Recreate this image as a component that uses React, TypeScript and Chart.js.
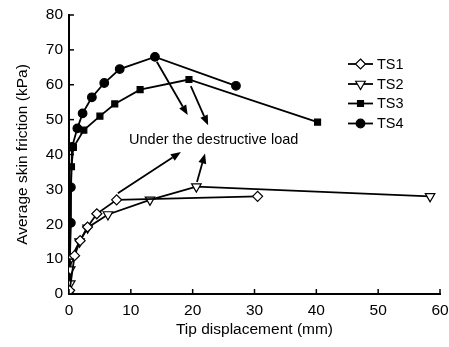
import React, { useEffect, useRef } from "react";
import { Chart, registerables } from "chart.js";

Chart.register(...registerables);

const TS1_X = [0.1, 0.9, 1.8, 3.0, 4.5, 7.7, 30.5];
const TS1_Y = [1, 11, 15.3, 19.2, 23, 27, 28];
const TS2_X = [0, 0.2, 0.2, 0.4, 1.7, 3.0, 6.3, 13.1, 20.6, 58.4];
const TS2_Y = [0.5, 3, 7, 10.5, 15, 19, 22.8, 27, 30.8, 28];
const TS3_X = [0, 0.4, 0.7, 2.4, 5.0, 7.4, 11.5, 19.4, 40.2];
const TS3_Y = [0, 36.5, 42, 47, 51, 54.5, 58.6, 61.5, 49.3];
const TS4_X = [0, 0.3, 0.3, 0.5, 1.35, 2.2, 3.7, 5.7, 8.2, 13.9, 27.0];
const TS4_Y = [0, 20.4, 30.6, 42.2, 47.5, 51.8, 56.4, 60.5, 64.5, 68, 59.7];

const SERIES_NAMES = ["TS1", "TS2", "TS3", "TS4"];
const X_TICKS = [0, 10, 20, 30, 40, 50, 60];
const Y_TICKS = [0, 10, 20, 30, 40, 50, 60, 70, 80];

const NOTE_TEXT = "Under the destructive load";
const NOTE_POS = [23.4, 44.3];
// arrows: [fromX, fromY, toX, toY] in data units
const ARROWS = [
  [14.2, 66.6, 19.2, 51.3],
  [19.7, 59.6, 22.5, 48.4],
  [7.9, 28.9, 18.1, 40.7],
  [20.7, 32.1, 22.0, 40.3],
];

const FONT = "Liberation Sans, Arial, sans-serif";

const zip = (xs: number[], ys: number[]) => xs.map((x, i) => ({ x, y: ys[i] }));

const STYLES = [
  { pointStyle: "rectRot", radius: 5, bg: "#fff", rotation: 0 },
  { pointStyle: "triangle", radius: 5.5, bg: "#fff", rotation: 180 },
  { pointStyle: "rect", radius: 4.2, bg: "#000", rotation: 0 },
  { pointStyle: "circle", radius: 4.3, bg: "#000", rotation: 0 },
];

function drawPoint(ctx: any, style: string, r: number, x: number, y: number, rot: number, bg: string) {
  ctx.save();
  ctx.translate(x, y);
  ctx.rotate((rot * Math.PI) / 180);
  ctx.beginPath();
  if (style === "circle") {
    ctx.arc(0, 0, r, 0, Math.PI * 2);
  } else if (style === "rect") {
    const s = r * Math.SQRT1_2;
    ctx.rect(-s, -s, 2 * s, 2 * s);
  } else if (style === "rectRot") {
    ctx.moveTo(0, -r);
    ctx.lineTo(r, 0);
    ctx.lineTo(0, r);
    ctx.lineTo(-r, 0);
    ctx.closePath();
  } else if (style === "triangle") {
    ctx.moveTo(0, -r);
    ctx.lineTo(r * 0.87, r * 0.5);
    ctx.lineTo(-r * 0.87, r * 0.5);
    ctx.closePath();
  }
  ctx.fillStyle = bg;
  ctx.fill();
  ctx.strokeStyle = "#000";
  ctx.stroke();
  ctx.restore();
}

const decorPlugin = {
  id: "decor",
  afterDatasetsDraw(chart: any) {
    const ctx = chart.ctx;
    const xs = chart.scales.x;
    const ys = chart.scales.y;
    const area = chart.chartArea;
    ctx.save();
    ctx.strokeStyle = "#000";
    ctx.lineWidth = 1.5;
    // inward ticks
    X_TICKS.forEach((v) => {
      const px = xs.getPixelForValue(v);
      ctx.beginPath();
      ctx.moveTo(px, area.bottom);
      ctx.lineTo(px, area.bottom - 5);
      ctx.stroke();
    });
    Y_TICKS.forEach((v) => {
      const py = ys.getPixelForValue(v);
      ctx.beginPath();
      ctx.moveTo(area.left, py);
      ctx.lineTo(area.left + 5, py);
      ctx.stroke();
    });
    // arrows
    ARROWS.forEach(([x0, y0, x1, y1]) => {
      const ax = xs.getPixelForValue(x0);
      const ay = ys.getPixelForValue(y0);
      const bx = xs.getPixelForValue(x1);
      const by = ys.getPixelForValue(y1);
      const ang = Math.atan2(by - ay, bx - ax);
      const hl = 10;
      const hw = 4;
      const baseX = bx - hl * Math.cos(ang);
      const baseY = by - hl * Math.sin(ang);
      ctx.lineWidth = 1.8;
      ctx.beginPath();
      ctx.moveTo(ax, ay);
      ctx.lineTo(baseX, baseY);
      ctx.stroke();
      ctx.beginPath();
      ctx.moveTo(bx, by);
      ctx.lineTo(baseX + hw * Math.sin(ang), baseY - hw * Math.cos(ang));
      ctx.lineTo(baseX - hw * Math.sin(ang), baseY + hw * Math.cos(ang));
      ctx.closePath();
      ctx.fillStyle = "#000";
      ctx.fill();
    });
    // note
    ctx.fillStyle = "#000";
    ctx.font = `14.5px ${FONT}`;
    ctx.textAlign = "center";
    ctx.textBaseline = "middle";
    ctx.fillText(NOTE_TEXT, xs.getPixelForValue(NOTE_POS[0]), ys.getPixelForValue(NOTE_POS[1]));
    // legend
    const lx0 = 348;
    const lx1 = 373;
    const rows = [64, 84, 103.5, 123.5];
    SERIES_NAMES.forEach((name, i) => {
      const y = rows[i];
      const st = STYLES[i];
      ctx.lineWidth = 1.8;
      ctx.strokeStyle = "#000";
      ctx.beginPath();
      ctx.moveTo(lx0, y);
      ctx.lineTo(lx1, y);
      ctx.stroke();
      ctx.lineWidth = 1.2;
      drawPoint(ctx, st.pointStyle, st.radius, (lx0 + lx1) / 2, y, st.rotation, st.bg);
      ctx.fillStyle = "#000";
      ctx.font = `14.5px ${FONT}`;
      ctx.textAlign = "left";
      ctx.textBaseline = "middle";
      ctx.fillText(name, 377, y + 0.5);
    });
    ctx.restore();
  },
};

export default function App() {
  const ref = useRef<HTMLCanvasElement | null>(null);
  useEffect(() => {
    if (!ref.current) return;
    const all = [zip(TS1_X, TS1_Y), zip(TS2_X, TS2_Y), zip(TS3_X, TS3_Y), zip(TS4_X, TS4_Y)];
    const chart = new Chart(ref.current, {
      type: "scatter",
      data: {
        datasets: all.map((d, i) => ({
          label: SERIES_NAMES[i],
          data: d,
          showLine: true,
          borderColor: "#000",
          borderWidth: 1.8,
          pointStyle: STYLES[i].pointStyle as any,
          pointRadius: STYLES[i].radius,
          pointRotation: STYLES[i].rotation,
          pointBackgroundColor: STYLES[i].bg,
          pointBorderColor: "#000",
          pointBorderWidth: 1.2,
        })),
      },
      options: {
        animation: false,
        responsive: false,
        maintainAspectRatio: false,
        layout: { padding: { left: 0, right: 9, top: 15, bottom: 0 } },
        plugins: { legend: { display: false }, tooltip: { enabled: false } },
        scales: {
          x: {
            type: "linear",
            min: 0,
            max: 60,
            afterBuildTicks: (s: any) => {
              s.ticks = X_TICKS.map((v) => ({ value: v }));
            },
            afterFit: (s: any) => {
              s.height = 347 - 294;
              s.paddingRight = 0;
              s.paddingLeft = 0;
            },
            grid: { display: true, drawOnChartArea: false, drawTicks: false },
            border: { display: true, color: "#000", width: 2 },
            ticks: { color: "#000", font: { family: FONT, size: 15.5 }, padding: 7, maxRotation: 0 },
            title: {
              display: true,
              text: "Tip displacement (mm)",
              color: "#000",
              font: { family: FONT, size: 15.5 },
              padding: { top: 1, bottom: 8 },
            },
          },
          y: {
            type: "linear",
            min: 0,
            max: 80,
            afterBuildTicks: (s: any) => {
              s.ticks = Y_TICKS.map((v) => ({ value: v }));
            },
            afterFit: (s: any) => {
              s.width = 69;
              s.paddingTop = 0;
              s.paddingBottom = 0;
            },
            grid: { display: true, drawOnChartArea: false, drawTicks: false },
            border: { display: true, color: "#000", width: 2 },
            ticks: { color: "#000", font: { family: FONT, size: 15.5 }, padding: 6 },
            title: {
              display: true,
              text: "Average skin friction (kPa)",
              color: "#000",
              font: { family: FONT, size: 15.5 },
              padding: { top: 13, bottom: 0 },
            },
          },
        },
      },
      plugins: [decorPlugin],
    });
    return () => chart.destroy();
  }, []);
  return (
    <div style={{ position: "fixed", left: 0, top: 0, width: 449, height: 347, background: "#fff" }}>
      <canvas ref={ref} width={449} height={347} style={{ display: "block" }} />
    </div>
  );
}
